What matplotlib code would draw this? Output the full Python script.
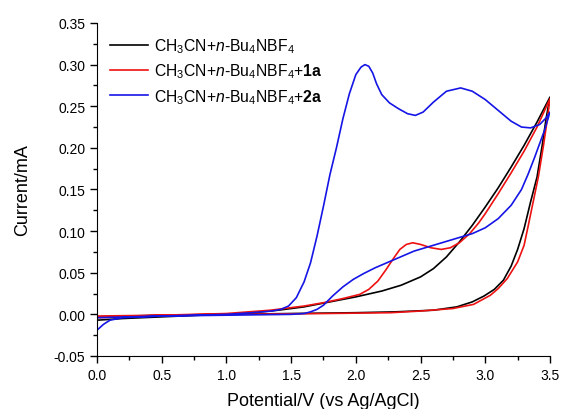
import matplotlib
matplotlib.use("Agg")
import matplotlib.pyplot as plt
from matplotlib.ticker import MultipleLocator

plt.rcParams['font.family'] = ['Liberation Sans', 'DejaVu Sans']
plt.rcParams['mathtext.fontset'] = 'custom'
plt.rcParams['mathtext.rm'] = 'Liberation Sans'
plt.rcParams['mathtext.it'] = 'Liberation Sans:italic'
plt.rcParams['mathtext.bf'] = 'Liberation Sans:bold'

labels = [r'CH$_3$CN+$n$-Bu$_4$NBF$_4$',
          r'CH$_3$CN+$n$-Bu$_4$NBF$_4$+$\mathbf{1a}$',
          r'CH$_3$CN+$n$-Bu$_4$NBF$_4$+$\mathbf{2a}$']

black_x = [0.0, 0.2, 0.5, 0.8, 1.0, 1.2, 1.4, 1.6, 1.8, 2.0, 2.2, 2.35, 2.5, 2.6, 2.7, 2.8, 2.9, 3.0, 3.1, 3.2, 3.3, 3.4, 3.5,
           3.47, 3.44, 3.4, 3.35, 3.3, 3.25, 3.2, 3.14, 3.07, 2.99, 2.9, 2.78, 2.6, 2.3, 2.0, 1.5, 1.0, 0.5, 0.0]
black_y = [-0.007, -0.005, -0.003, -0.001, 0.0, 0.002, 0.005, 0.009, 0.015, 0.021, 0.028, 0.035, 0.045, 0.055, 0.069, 0.087, 0.107, 0.129, 0.152, 0.177, 0.203, 0.231, 0.261,
           0.235, 0.203, 0.165, 0.135, 0.103, 0.078, 0.058, 0.041, 0.030, 0.022, 0.015, 0.009, 0.005, 0.003, 0.002, 0.001, 0.0, -0.001, -0.003]

red_x = [0.0, 0.5, 1.0, 1.34, 1.6, 1.75, 1.9, 2.03, 2.1, 2.17, 2.23, 2.29, 2.34, 2.39, 2.44, 2.5, 2.58, 2.66, 2.73, 2.8, 2.88, 2.95, 3.0, 3.1, 3.2, 3.3, 3.4, 3.5,
         3.48, 3.45, 3.41, 3.37, 3.33, 3.3, 3.25, 3.17, 3.1, 3.04, 2.91, 2.75, 2.5, 2.27, 1.75, 1.0, 0.5, 0.0]
red_y = [-0.004, -0.001, 0.001, 0.005, 0.010, 0.014, 0.019, 0.024, 0.030, 0.040, 0.053, 0.067, 0.078, 0.084, 0.086, 0.084, 0.080, 0.078, 0.080, 0.086, 0.097, 0.110, 0.121, 0.145, 0.170, 0.196, 0.225, 0.259,
         0.235, 0.203, 0.165, 0.135, 0.105, 0.083, 0.063, 0.043, 0.031, 0.023, 0.012, 0.007, 0.004, 0.002, 0.001, 0.0, -0.001, -0.002]

blue_x = [0.0, 0.05, 0.1, 0.2, 0.5, 1.0, 1.2, 1.35, 1.42, 1.48, 1.54, 1.6, 1.65, 1.7, 1.75, 1.8, 1.85, 1.9, 1.95, 2.0, 2.04, 2.07, 2.1, 2.13, 2.16, 2.2, 2.26, 2.33, 2.4, 2.46, 2.52, 2.6, 2.7, 2.81, 2.9, 3.0, 3.1, 3.2, 3.28, 3.35, 3.42, 3.47, 3.5,
          3.46, 3.42, 3.38, 3.33, 3.28, 3.2, 3.1, 3.0, 2.9, 2.75, 2.6, 2.45, 2.3, 2.15, 2.06, 1.98, 1.9, 1.82, 1.75, 1.7, 1.65, 1.6, 1.5, 1.0, 0.5, 0.0]
blue_y = [-0.019, -0.012, -0.007, -0.004, -0.002, 0.0, 0.002, 0.004, 0.006, 0.010, 0.020, 0.039, 0.062, 0.094, 0.130, 0.168, 0.200, 0.235, 0.265, 0.288, 0.297, 0.300, 0.298, 0.290, 0.277, 0.264, 0.254, 0.247, 0.241, 0.239, 0.243, 0.255, 0.268, 0.272, 0.268, 0.258, 0.245, 0.232, 0.225, 0.224, 0.228, 0.236, 0.243,
          0.222, 0.205, 0.188, 0.168, 0.150, 0.131, 0.115, 0.104, 0.097, 0.090, 0.083, 0.076, 0.066, 0.056, 0.049, 0.042, 0.033, 0.022, 0.011, 0.006, 0.003, 0.001, 0.0, -0.001, -0.002, -0.004]

fig = plt.figure(figsize=(5.62, 4.10), dpi=100)
ax = fig.add_axes([0.1726, 0.1293, 0.806, 0.8122])

ax.plot(black_x, black_y, color='black', lw=1.2, label=labels[0])
ax.plot(red_x, red_y, color='#ee1111', lw=1.2, label=labels[1])
ax.plot(blue_x, blue_y, color='#1515e6', lw=1.2, label=labels[2])

ax.set_xlim(0, 3.5)
ax.set_ylim(-0.05, 0.35)
ax.xaxis.set_major_locator(MultipleLocator(0.5))
ax.xaxis.set_minor_locator(MultipleLocator(0.25))
ax.yaxis.set_major_locator(MultipleLocator(0.05))
ax.yaxis.set_minor_locator(MultipleLocator(0.025))
ax.xaxis.set_major_formatter(matplotlib.ticker.FormatStrFormatter('%.1f'))
ax.yaxis.set_major_formatter(matplotlib.ticker.FormatStrFormatter('%.2f'))
ax.spines['top'].set_visible(False)
ax.spines['right'].set_visible(False)
ax.tick_params(which='major', direction='out', length=5, width=1, labelsize=10)
ax.tick_params(which='minor', direction='out', length=3, width=1)
ax.set_xlabel('Potential/V (vs Ag/AgCl)', fontsize=13, labelpad=7)
ax.set_ylabel('Current/mA', fontsize=13, labelpad=16)

ax.legend(loc='upper left', frameon=False, fontsize=11.3, handlelength=2.4,
          labelspacing=0.42, handletextpad=0.4, bbox_to_anchor=(0.0, 1.0), borderaxespad=0.45)

fig.savefig('out.png', dpi=100)
